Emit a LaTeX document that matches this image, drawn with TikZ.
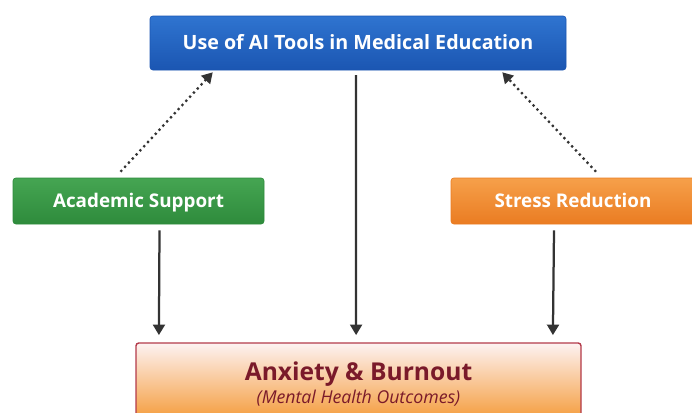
\documentclass[tikz,border=0pt]{standalone}
\usepackage{fontspec}
\setmainfont{Open Sans}
\usetikzlibrary{arrows.meta,positioning}

\definecolor{topblue}{HTML}{2F74D0}
\definecolor{topblueD}{HTML}{1B56B2}
\definecolor{acgreen}{HTML}{45A552}
\definecolor{acgreenD}{HTML}{2E8B3C}
\definecolor{storange}{HTML}{F6A04A}
\definecolor{storangeD}{HTML}{EA7C22}
\definecolor{outpink}{HTML}{FDF2F2}
\definecolor{outorange}{HTML}{F4962F}
\definecolor{outred}{HTML}{B33A4A}
\definecolor{outtext}{HTML}{7A1A2A}
\definecolor{arrowgray}{HTML}{333333}

\tikzset{
  box/.style={rounded corners=2pt, inner sep=0pt, font=\bfseries, text=white,
              text height=9.8pt, text depth=0pt},
  link/.style={-{Triangle[length=7.5pt,width=8.5pt]}, line width=1.6pt, draw=arrowgray},
  hint/.style={-{Triangle[length=7.5pt,width=8.5pt]}, line width=1.6pt, draw=arrowgray,
               dash pattern=on 1.6pt off 2.4pt}
}

\begin{document}
\begin{tikzpicture}
    \useasboundingbox (0,0) rectangle (17.3,-10.3);

    %boxes
    \node[box, draw=topblueD, top color=topblue, bottom color=topblueD,
          minimum width=10.4cm, minimum height=1.35cm, font=\bfseries\fontsize{14}{16}\selectfont]
          (tools) at (8.95,-1.075) {Use of AI Tools in Medical Education};
    \node[box, draw=acgreenD, top color=acgreen, bottom color=acgreenD,
          minimum width=6.275cm, minimum height=1.15cm, font=\bfseries\fontsize{13.4}{15}\selectfont]
          (support) at (3.4625,-5.025) {Academic Support};
    \node[box, draw=storangeD, top color=storange, bottom color=storangeD,
          minimum width=6.1cm, minimum height=1.15cm, font=\bfseries\fontsize{13.4}{15}\selectfont]
          (stress) at (14.325,-5.025) {Stress Reduction};
    \node[draw=outred, line width=1pt, rounded corners=2pt, top color=outpink, bottom color=outorange,
          minimum width=11.125cm, minimum height=2.05cm, text=outtext, align=center]
          (anxiety) at (8.9625,-9.6)
          {{\fontsize{17.5}{19}\selectfont\bfseries Anxiety \& Burnout}\\[1pt]
           {\fontsize{12.6}{14}\selectfont\itshape (Mental Health Outcomes)}};

    %dotted links up
    \draw[hint] ([xshift=-0.45cm,yshift=0.15cm]support.north) -- ([xshift=1.575cm,yshift=-0.05cm]tools.south west);
    \draw[hint] ([xshift=0.575cm,yshift=0.15cm]stress.north) -- ([xshift=-1.6cm,yshift=-0.05cm]tools.south east);

    %solid links down
    \draw[link] ([xshift=0.525cm,yshift=-0.15cm]support.south) -- ([xshift=-4.99cm,yshift=0.18cm]anxiety.north);
    \draw[link] ([xshift=-0.05cm,yshift=-0.12cm]tools.south) -- ([xshift=-0.06cm,yshift=0.18cm]anxiety.north);
    \draw[link] ([xshift=-0.475cm,yshift=-0.15cm]stress.south) -- ([xshift=4.86cm,yshift=0.18cm]anxiety.north);
\end{tikzpicture}
\end{document}
